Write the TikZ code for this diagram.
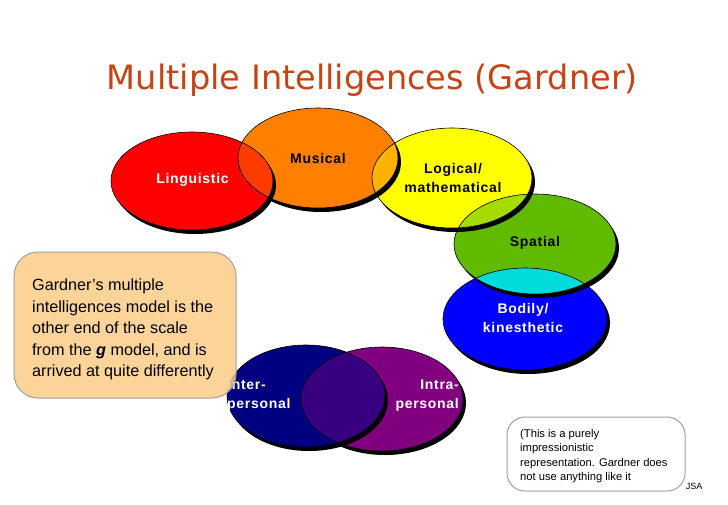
\documentclass[tikz,border=0pt]{standalone}
\usepackage{fontspec}
\setmainfont{Liberation Sans}
\newfontfamily\titlefont{DejaVu Sans}
\newfontfamily\blobfont[LetterSpace=5]{Liberation Sans}
\usepackage{xcolor}
\usetikzlibrary{positioning}

\definecolor{titlerust}{RGB}{196,68,20}
\definecolor{lingred}{RGB}{255,0,0}
\definecolor{musorange}{RGB}{255,128,0}
\definecolor{logyellow}{RGB}{255,255,0}
\definecolor{spagreen}{RGB}{96,186,0}
\definecolor{bodblue}{RGB}{0,0,255}
\definecolor{internavy}{RGB}{0,0,128}
\definecolor{intrapurple}{RGB}{128,0,128}
\definecolor{lensredorange}{RGB}{255,60,0}
\definecolor{lensorangeyellow}{RGB}{255,178,0}
\definecolor{lensyellowgreen}{RGB}{164,220,0}
\definecolor{lensgreenblue}{RGB}{0,220,220}
\definecolor{lensinterintra}{RGB}{56,0,128}
\definecolor{notepeach}{RGB}{252,205,136}
\definecolor{boxgrey}{RGB}{160,160,160}

% ellipse outlines
\newcommand\elLing{(192,181) ellipse [x radius=81, y radius=49]}
\newcommand\elMus{(318,158) ellipse [x radius=80, y radius=50]}
\newcommand\elLog{(452,178) ellipse [x radius=80, y radius=50]}
\newcommand\elSpa{(535,244) ellipse [x radius=81, y radius=50]}
\newcommand\elBod{(525,319) ellipse [x radius=82, y radius=51]}
\newcommand\elInter{(306,396) ellipse [x radius=79, y radius=51]}
\newcommand\elIntra{(382,399) ellipse [x radius=81, y radius=52]}

\begin{document}
\begin{tikzpicture}[x=1pt,y=-1pt,
  every node/.style={inner sep=0pt},
  blobshadow/.style={fill=black,shift={(3,4)}},
  blobline/.style={draw=black,line width=0.6pt},
  bloblabel/.style={font=\blobfont\bfseries\fontsize{14}{19}\selectfont,align=center},
  notebox/.style={draw=boxgrey,line width=1pt}]
  \useasboundingbox (0,0) rectangle (728,504);
  % title
  \node[anchor=base,text=titlerust,font=\titlefont\fontsize{33.6}{36}\selectfont]
    (title) at (372.5,89) {Multiple Intelligences (Gardner)};
  % inter / intra
  \fill[blobshadow] \elIntra;
  \fill[intrapurple] \elIntra;
  \fill[blobshadow] \elInter;
  \fill[internavy] \elInter;
  \begin{scope}
    \clip \elInter;
    \fill[lensinterintra] \elIntra;
  \end{scope}
  % the chain of five
  \fill[blobshadow] \elBod;
  \fill[bodblue] \elBod;
  \fill[blobshadow] \elSpa;
  \fill[spagreen] \elSpa;
  \fill[blobshadow] \elLog;
  \fill[logyellow] \elLog;
  \fill[blobshadow] \elMus;
  \fill[musorange] \elMus;
  \fill[blobshadow] \elLing;
  \fill[lingred] \elLing;
  % overlaps
  \begin{scope}
    \clip \elLing;
    \fill[lensredorange] \elMus;
  \end{scope}
  \begin{scope}
    \clip \elMus;
    \fill[lensorangeyellow] \elLog;
  \end{scope}
  \begin{scope}
    \clip \elLog;
    \fill[lensyellowgreen] \elSpa;
  \end{scope}
  \begin{scope}
    \clip \elSpa;
    \fill[lensgreenblue] \elBod;
  \end{scope}
  \foreach \el in {\elLing,\elMus,\elLog,\elSpa,\elBod,\elInter,\elIntra}
    \path[blobline] \el;
  % labels
  \node[bloblabel,text=white] (ling) at (192.5,180) {Linguistic};
  \node[bloblabel] (mus) at (318,158) {Musical};
  \node[bloblabel] (log) at (453,177.5) {Logical/\\mathematical};
  \node[bloblabel] (spa) at (535,243) {Spatial};
  \node[bloblabel,text=white] (bod) at (523,317.5) {Bodily/\\kinesthetic};
  \node[bloblabel,text=white,align=left,anchor=west] (inter) at (227,396) {Inter-\\personal};
  \node[bloblabel,text=white,align=right,anchor=east] (intra) at (459,396) {Intra-\\personal};
  % comment box
  \draw[notebox,fill=notepeach,fill opacity=0.85,rounded corners=24] (14,252) rectangle (236,398);
  \node[anchor=north west,align=left,font=\fontsize{16.2}{21.4}\selectfont] (gbox) at (32,279)
    {Gardner’s multiple\\intelligences model is the\\other end of the scale\\from the \textbf{\textit{g}} model, and is\\arrived at quite differently};
  % note
  \draw[notebox,fill=white,rounded corners=18] (507,417) rectangle (685,491);
  \node[anchor=north west,align=left,font=\fontsize{11.2}{14.5}\selectfont] (note) at (520,429)
    {(This is a purely\\impressionistic\\representation. Gardner does\\not use anything like it};
  \node[font=\fontsize{9}{10}\selectfont] (jsa) at (694,486) {JSA};
\end{tikzpicture}
\end{document}
